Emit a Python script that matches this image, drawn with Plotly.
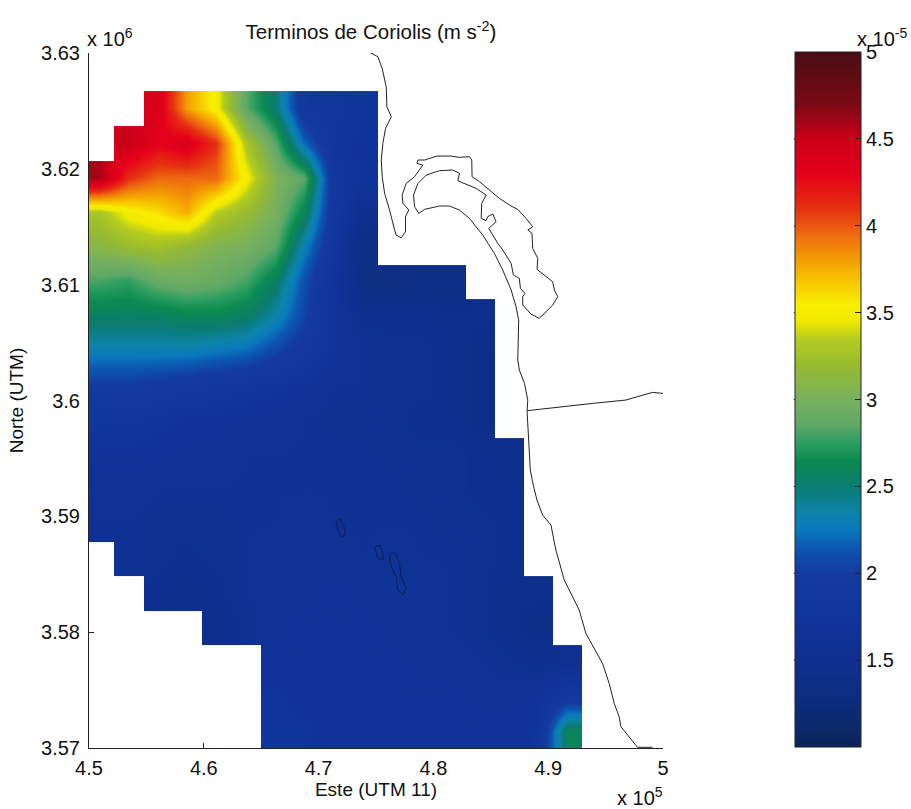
import numpy as np
import plotly.graph_objects as go

N = None
# grid centres, km (UTM 11)
grid_east_km = [450.91,453.46,456.01,458.56,461.10,463.65,466.20,468.75,471.30,473.84,476.39,478.94,481.49,484.04,486.58,489.13,491.68]
grid_north_km = [3625.22,3622.23,3619.24,3616.26,3613.27,3610.28,3607.29,3604.31,3601.32,3598.33,3595.34,3592.35,3589.37,3586.38,3583.39,3580.40,3577.42,3574.43,3571.44]
# Coriolis term, units of 1e-5 m s-2, north to south
coriolis = [
 [N,N,4.4,3.8,3.5,2.85,2.5,1.85,1.8,1.75,N,N,N,N,N,N,N],
 [N,4.5,4.3,4.4,4.1,3.3,2.85,2.2,1.75,1.7,N,N,N,N,N,N,N],
 [4.6,4.1,3.95,3.95,3.95,3.5,3.05,2.85,1.85,1.7,N,N,N,N,N,N,N],
 [3.3,3.5,3.6,3.75,3.35,3.2,3.0,2.6,1.85,1.5,N,N,N,N,N,N,N],
 [3.1,3.2,3.25,3.15,3.05,3.0,2.85,2.3,1.8,1.35,N,N,N,N,N,N,N],
 [2.8,2.75,2.9,2.95,2.9,2.8,2.55,2.1,1.7,1.35,1.3,1.35,1.35,N,N,N,N],
 [2.55,2.55,2.55,2.6,2.6,2.55,2.35,2.05,1.7,1.5,1.5,1.5,1.45,1.45,N,N,N],
 [2.3,2.3,2.3,2.3,2.25,2.2,2.05,1.9,1.7,1.6,1.55,1.55,1.5,1.4,N,N,N],
 [2.0,2.0,1.95,1.9,1.85,1.8,1.75,1.7,1.6,1.6,1.55,1.55,1.5,1.4,N,N,N],
 [1.8,1.8,1.75,1.7,1.7,1.65,1.65,1.6,1.55,1.55,1.55,1.5,1.5,1.4,N,N,N],
 [1.7,1.7,1.7,1.65,1.65,1.6,1.6,1.6,1.6,1.6,1.55,1.55,1.55,1.5,1.45,N,N],
 [1.65,1.65,1.6,1.6,1.6,1.6,1.6,1.6,1.6,1.6,1.6,1.55,1.55,1.5,1.5,N,N],
 [1.6,1.6,1.55,1.55,1.55,1.6,1.6,1.65,1.6,1.6,1.6,1.6,1.55,1.55,1.5,N,N],
 [N,1.6,1.55,1.5,1.55,1.6,1.65,1.65,1.65,1.6,1.65,1.6,1.6,1.55,1.5,N,N],
 [N,N,1.5,1.45,1.5,1.6,1.65,1.65,1.7,1.65,1.65,1.65,1.6,1.55,1.45,1.45,N],
 [N,N,N,N,1.45,1.55,1.65,1.7,1.7,1.7,1.65,1.65,1.6,1.55,1.45,1.4,N],
 [N,N,N,N,N,N,1.7,1.7,1.7,1.7,1.7,1.65,1.65,1.6,1.55,1.5,1.55],
 [N,N,N,N,N,N,1.75,1.7,1.7,1.7,1.7,1.7,1.7,1.65,1.65,1.7,1.9],
 [N,N,N,N,N,N,1.75,1.75,1.7,1.7,1.7,1.7,1.7,1.7,1.7,1.75,2.6],
]

coast_east_km = [474.50,475.16,475.54,475.89,475.95,476.33,475.83,475.60,475.46,475.54,475.75,476.18,476.62,476.76,477.20,477.57,477.57,477.86,477.34,477.28,477.63,478.36,479.08,478.56,478.65,479.23,480.30,481.55,482.27,483.14,483.34,483.37,484.01,484.88,485.75,486.77,487.35,488.07,488.65,488.22,488.59,488.65,489.09,489.03,489.67,490.39,490.54,490.83,490.39,489.81,489.23,488.50,487.78,487.78,487.98,487.58,487.49,486.97,486.77,486.04,485.61,484.82,485.46,485.17,484.73,484.59,484.16,484.21,484.59,483.72,482.13,482.27,481.69,480.53,479.37,478.65,478.27,478.36,478.73,479.23,480.53,481.40,482.27,483.14,484.30,485.31,486.04,486.77,487.20,487.43,487.35,487.49,487.93,488.22,488.16,488.30,488.44,488.70,489.02,489.51,490.24,490.67,491.40,492.70,493.28,494.73,495.31,495.75,496.18,496.33,497.49,497.78,499.08]
coast_north_km = [3630.03,3629.68,3628.67,3627.09,3625.36,3624.50,3623.49,3622.20,3620.76,3619.32,3617.88,3616.44,3614.72,3614.28,3614.05,3614.57,3615.87,3616.44,3617.02,3617.74,3618.74,3619.32,3620.33,3620.47,3620.76,3620.76,3621.10,3621.10,3620.99,3621.05,3620.76,3619.32,3618.89,3618.17,3617.45,3616.79,3616.50,3615.72,3615.00,3614.72,3614.43,3613.13,3612.27,3611.32,3610.83,3610.25,3609.54,3608.96,3608.24,3607.66,3607.09,3607.46,3608.24,3608.96,3609.25,3609.68,3610.54,3610.83,3611.84,3612.99,3613.56,3614.86,3615.43,3616.10,3615.87,3615.52,3615.72,3617.02,3617.74,3618.31,3618.97,3619.61,3619.90,3619.84,3619.46,3618.74,3617.74,3616.73,3616.15,3616.50,3616.79,3616.79,3616.44,3615.72,3614.28,3612.70,3611.26,3609.54,3608.10,3606.94,3603.49,3602.63,3601.48,3600.04,3599.03,3596.58,3594.00,3592.70,3591.41,3590.11,3589.25,3587.09,3584.50,3581.91,3579.90,3577.31,3575.58,3573.85,3572.70,3571.84,3570.40,3570.06,3570.06]
border_east_km = [488.16,490.97,493.87,496.77,499.09,500.01]
border_north_km = [3599.12,3599.46,3599.75,3600.04,3600.70,3600.61]
island_a_east = [471.54,471.83,472.18,472.35,471.97,471.68,471.54]
island_a_north = [3589.54,3589.83,3589.25,3588.39,3588.24,3588.82,3589.54]
island_b_east = [474.87,475.31,475.60,475.60,475.16,475.02,474.87]
island_b_north = [3587.38,3587.52,3586.81,3586.23,3586.37,3586.95,3587.38]
island_c_east = [476.18,476.61,477.05,477.19,477.63,477.34,476.90,476.76,476.32,476.18]
island_c_north = [3586.66,3586.95,3585.94,3584.79,3583.78,3583.21,3583.64,3584.79,3585.65,3586.66]

east_ticks = [4.5,4.6,4.7,4.8,4.9,5.0]
east_labels = ["4.5","4.6","4.7","4.8","4.9","5"]
north_ticks = [3.57,3.58,3.59,3.60,3.61,3.62,3.63]
north_labels = ["3.57","3.58","3.59","3.6","3.61","3.62","3.63"]
bar_ticks = [1.5,2,2.5,3,3.5,4,4.5,5]
bar_labels = ["1.5","2","2.5","3","3.5","4","4.5","5"]

scale_values = [1.0,1.25,1.5,1.75,2.0,2.15,2.25,2.35,2.5,2.65,2.75,2.85,3.0,3.2,3.35,3.45,3.55,3.75,3.95,4.1,4.3,4.5,4.7,5.0]
scale_colors = ["#0b2558","#0c2d7e","#0e2f8f","#10359b","#143aa0","#0c58b0","#0a78bd","#0c83a8","#0b7b70","#0b8a50","#2a9e60","#5fa868","#78b060","#98bb30","#b5cc20","#f0ea00","#f8ee00","#f5b000","#ee6a10","#e53010","#e5001a","#cc0018","#7a0a14","#4a0d14"]
colorscale = [[(v-1)/4, c] for v, c in zip(scale_values, scale_colors)]

FONT = "Liberation Sans, Arial, sans-serif"
W, H = 911, 809
L, R, T, B = 89, 664, 53, 748

z = np.array(coriolis, dtype=float) * 1e-5
fig = go.Figure()
fig.add_trace(go.Heatmap(
    x=np.array(grid_east_km)*1000, y=np.array(grid_north_km[::-1])*1000, z=z[::-1],
    zsmooth="best", zmin=1e-5, zmax=5e-5, colorscale=colorscale,
    colorbar=dict(
        x=(795-L)/(R-L), xanchor="left", y=(B-52)/(B-T), yanchor="top",
        thickness=66, thicknessmode="pixels",
        len=695, lenmode="pixels", xpad=0, ypad=0, outlinewidth=1, outlinecolor="#222",
        tickmode="array", tickvals=[v*1e-5 for v in bar_ticks], ticktext=bar_labels,
        ticks="inside", ticklen=6, tickcolor="#222", tickwidth=1,
        tickfont=dict(family=FONT, size=20, color="#111"),
    ),
    hoverinfo="skip",
))

def line(xs, ys, color="#222"):
    fig.add_trace(go.Scatter(x=np.array(xs)*1000, y=np.array(ys)*1000, mode="lines",
                             line=dict(color=color, width=1), showlegend=False, hoverinfo="skip"))
line(coast_east_km, coast_north_km)
line(border_east_km, border_north_km)
for xs, ys in [(island_a_east, island_a_north), (island_b_east, island_b_north), (island_c_east, island_c_north)]:
    line(xs, ys, "#0c1f55")

axis_common = dict(showgrid=False, zeroline=False, showline=True, linecolor="#222", linewidth=1,
                   ticks="inside", ticklen=5, tickcolor="#222", tickwidth=1, layer="below traces",
                   tickfont=dict(family=FONT, size=20, color="#111"), mirror=False)

fig.update_layout(
    width=W, height=H, autosize=False, paper_bgcolor="white", plot_bgcolor="white",
    margin=dict(l=L, r=W-R, t=T, b=H-B, pad=0), showlegend=False,
    title=dict(text="Terminos de Coriolis (m s<sup>-2</sup>)", x=371/W, xanchor="center",
               y=1-32/H, yanchor="middle", font=dict(family=FONT, size=20.5, color="#111")),
    xaxis=dict(range=[450000,500000], tickmode="array", tickvals=[v*1e5 for v in east_ticks],
               ticktext=east_labels, ticklabelstandoff=2,
               title=dict(text="Este (UTM 11)" + "\u2003", standoff=4,
               font=dict(family=FONT, size=19, color="#111")), **axis_common),
    yaxis=dict(range=[3570000,3630000], tickmode="array", tickvals=[v*1e6 for v in north_ticks],
               ticktext=north_labels, ticklabelstandoff=4,
               title=dict(text="Norte (UTM)", standoff=12,
               font=dict(family=FONT, size=19, color="#111")), **axis_common),
)

def note(text, px, py, anchor="left"):
    fig.add_annotation(text=text, xref="paper", yref="paper", x=(px-L)/(R-L), y=(B-py)/(B-T),
                       xanchor=anchor, yanchor="middle", showarrow=False, align=anchor,
                       font=dict(family=FONT, size=20, color="#111"))
note("x 10<sup>6</sup>", 85, 37)
note("x 10<sup>5</sup>", 616, 796)
note("x 10<sup>-5</sup>", 856, 37)

# left-hand ticks of the colour bar
for v in bar_ticks[:-1]:
    yp = (v-1)/4*(695)/(B-T) + (B-747)/(B-T)
    fig.add_shape(type="line", xref="paper", yref="paper", x0=(795-L)/(R-L), x1=(801-L)/(R-L),
                  y0=yp, y1=yp, line=dict(color="#222", width=1))

fig.write_html("out.html", config=dict(displayModeBar=False), post_script="document.body.style.margin='0';")
